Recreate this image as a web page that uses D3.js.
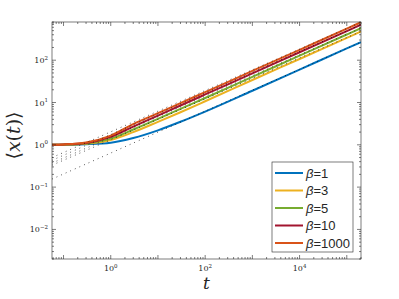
<!DOCTYPE html>
<html>
<head>
<meta charset="utf-8">
<script src="https://cdn.jsdelivr.net/npm/d3@7"></script>
<style>
body { margin: 0; background: #fff; }
svg text { fill: #262626; }
</style>
</head>
<body>
<div id="chartArea"></div>
<script>
// values (log-log)
const tGrid = [0.057, 0.1, 0.3, 1, 3, 10, 30, 100, 1000, 1e4, 1e5, 2e5];
const beta1 = [1.0, 1.0, 1.03, 1.12, 1.45, 2.2, 3.5, 6.1, 19, 60, 190, 268];
const beta3 = [1.0, 1.01, 1.06, 1.3, 2.0, 3.5, 5.9, 10.7, 34, 107, 338, 478];
const beta5 = [1.0, 1.01, 1.08, 1.4, 2.3, 4.1, 7.1, 12.8, 40.5, 128, 405, 572];
const beta10 = [1.0, 1.02, 1.11, 1.55, 2.7, 4.9, 8.5, 15.5, 48.7, 154, 487, 690];
const beta1000 = [1.0, 1.02, 1.13, 1.65, 3.1, 5.6, 9.7, 17.6, 55.7, 176, 557, 790];
// dotted asymptotes: value at left and right edge
const asymT = [0.057, 2e5];
const asymLeft = [0.155, 0.33, 0.37, 0.43, 0.5];
const asymRight = [268, 478, 572, 690, 790];
const labels = ["1", "3", "5", "10", "1000"];
const colors = ["#0072BD", "#EDB120", "#77AC30", "#A2142F", "#D95319"];
const seriesVals = [beta1, beta3, beta5, beta10, beta1000];
const xTickExp = [0, 2, 4];
const yTickExp = [-2, -1, 0, 1, 2];

const W = 399, H = 299;
const margin = { top: 22, right: 38, bottom: 40, left: 52 },
  width = W - margin.left - margin.right,
  height = H - margin.top - margin.bottom;

const svg = d3.select("#chartArea").append("svg")
  .attr("width", W).attr("height", H);
const g = svg.append("g").attr("transform", `translate(${margin.left},${margin.top})`);

const x = d3.scaleLog().domain([0.057, 2e5]).range([0, width]);
const y = d3.scaleLog().domain([0.002, 800]).range([height, 0]);

g.append("clipPath").attr("id", "clip").append("rect")
  .attr("width", width).attr("height", height);

const plot = g.append("g").attr("clip-path", "url(#clip)");

const line = d3.line()
  .x(d => x(d[0])).y(d => y(d[1]))
  .curve(d3.curveMonotoneX);

seriesVals.forEach((vals, i) => {
  plot.append("path")
    .datum(tGrid.map((t, k) => [t, vals[k]]))
    .attr("d", line)
    .attr("fill", "none")
    .attr("stroke", colors[i])
    .attr("stroke-width", 2);
});

asymLeft.forEach((v, i) => {
  plot.append("path")
    .datum([[asymT[0], v], [asymT[1], asymRight[i]]])
    .attr("d", d3.line().x(d => x(d[0])).y(d => y(d[1])))
    .attr("fill", "none")
    .attr("stroke", "#000")
    .attr("stroke-width", 0.8)
    .attr("stroke-dasharray", "0.8,4.2");
});

// axes box with inward ticks on all sides
const axisCol = "#262626";
const xt = x.ticks().filter(t => t >= 0.057 && t <= 2e5);
const yt = y.ticks().filter(t => t >= 0.002 && t <= 800);
const isMajor = v => Math.abs(Math.log10(v) - Math.round(Math.log10(v))) < 1e-9;

const ax = g.append("g");
ax.append("rect").attr("width", width).attr("height", height)
  .attr("fill", "none").attr("stroke", axisCol).attr("stroke-width", 0.6);

xt.forEach(t => {
  const len = isMajor(t) ? 4 : 2;
  [[height, -len], [0, len]].forEach(([y0, d]) => {
    ax.append("line").attr("x1", x(t)).attr("x2", x(t))
      .attr("y1", y0).attr("y2", y0 + d)
      .attr("stroke", axisCol).attr("stroke-width", 0.6);
  });
});
yt.forEach(v => {
  const len = isMajor(v) ? 4 : 2;
  [[0, len], [width, -len]].forEach(([x0, d]) => {
    ax.append("line").attr("y1", y(v)).attr("y2", y(v))
      .attr("x1", x0).attr("x2", x0 + d)
      .attr("stroke", axisCol).attr("stroke-width", 0.6);
  });
});

const tickFont = "'DejaVu Serif', 'Liberation Serif', serif";
xTickExp.forEach(e => {
  const tx = ax.append("text")
    .attr("x", x(Math.pow(10, e))).attr("y", height + 12)
    .attr("text-anchor", "middle")
    .style("font-family", tickFont).style("font-size", "8px");
  tx.append("tspan").text("10");
  tx.append("tspan").attr("dy", -3.5).style("font-size", "5.5px").text(e);
});
yTickExp.forEach(e => {
  const tx = ax.append("text")
    .attr("x", -4).attr("y", y(Math.pow(10, e)) + 3)
    .attr("text-anchor", "end")
    .style("font-family", tickFont).style("font-size", "8px");
  tx.append("tspan").text("10");
  tx.append("tspan").attr("dy", -3.5).style("font-size", "5.5px").text(e < 0 ? "\u2212" + (-e) : e);
});

// axis labels
g.append("text")
  .attr("x", width / 2).attr("y", height + 30)
  .attr("text-anchor", "middle")
  .style("font-family", "'DejaVu Serif', serif").style("font-style", "italic")
  .style("font-size", "17px")
  .text("t");

g.append("text")
  .attr("transform", `translate(${-32},${height / 2 - 5}) rotate(-90)`)
  .attr("text-anchor", "middle")
  .style("font-family", "'DejaVu Serif', serif")
  .style("font-size", "19px")
  .html("\u27E8<tspan font-style='italic'>x</tspan>(<tspan font-style='italic'>t</tspan>)\u27E9");

// legend
const lg = svg.append("g").attr("transform", "translate(272,162)");
lg.append("rect").attr("width", 81).attr("height", 90)
  .attr("fill", "#fff").attr("stroke", axisCol).attr("stroke-width", 0.6);
labels.forEach((lab, i) => {
  const yy = 11 + i * 17.5;
  lg.append("line").attr("x1", 3).attr("x2", 31).attr("y1", yy).attr("y2", yy)
    .attr("stroke", colors[i]).attr("stroke-width", 2);
  const tx = lg.append("text").attr("x", 34).attr("y", yy + 4.5)
    .style("font-family", "'Liberation Sans', Arial, sans-serif").style("font-size", "13px");
  tx.append("tspan").style("font-style", "italic").text("\u03B2");
  tx.append("tspan").text("=" + lab);
});
</script>
</body>
</html>
